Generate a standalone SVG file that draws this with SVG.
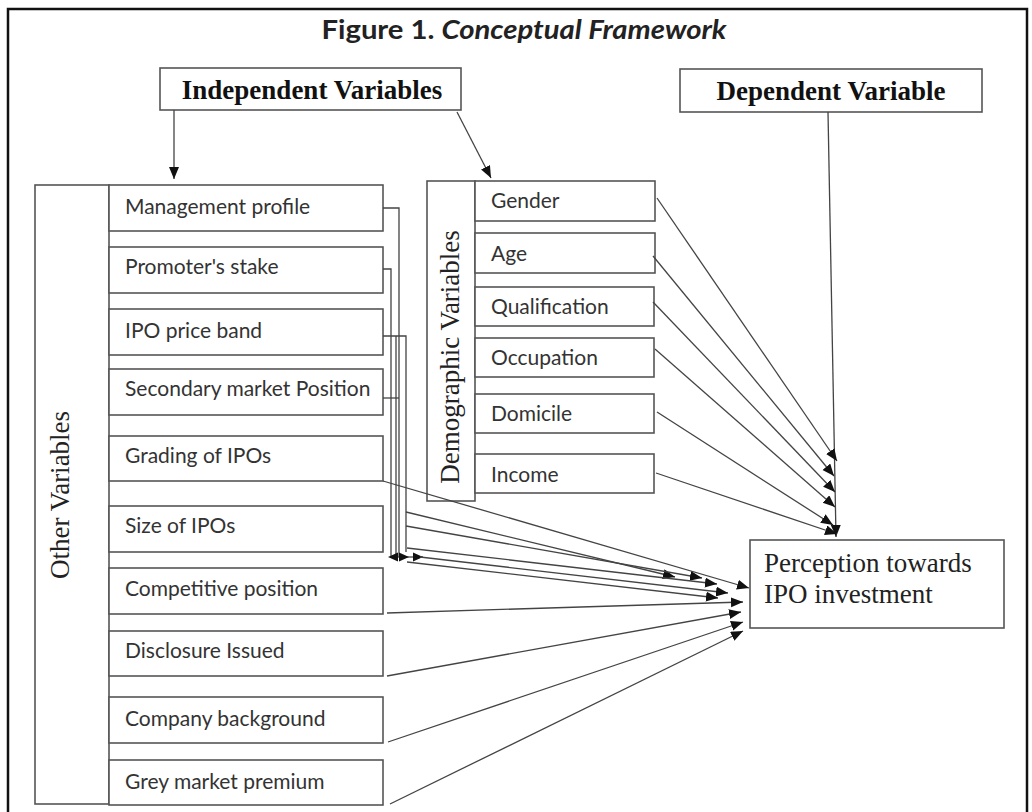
<svg xmlns="http://www.w3.org/2000/svg" width="1032" height="812" viewBox="0 0 1032 812">
<style>
.box{fill:#fff;stroke:#555;stroke-width:1.6}
.lbl{font-family:Lato,"Open Sans","Liberation Sans",sans-serif;font-size:21px;fill:#333}
.hdr{font-family:"Liberation Serif","Times New Roman",serif;font-size:27px;font-weight:bold;fill:#111}
.ser{font-family:"Liberation Serif","Times New Roman",serif;font-size:27px;fill:#222}
.ln{fill:none;stroke:#444;stroke-width:1.3}
.ar{fill:none;stroke:#444;stroke-width:1.3;marker-end:url(#ah)}
.tri{fill:#111}
</style>
<defs>
<marker id="ah" markerUnits="userSpaceOnUse" markerWidth="13" markerHeight="11" refX="12" refY="5" orient="auto">
<path d="M0,0 L12,5 L0,10 z" fill="#111"/>
</marker>
</defs>
<rect x="0" y="0" width="1032" height="812" fill="#fff"/>
<rect x="8" y="9" width="1019" height="830" fill="none" stroke="#111" stroke-width="2.5"/>
<text x="524" y="39" text-anchor="middle" font-family="Lato,'Open Sans','Liberation Sans',sans-serif" font-size="26" font-weight="bold" fill="#222" textLength="405" lengthAdjust="spacingAndGlyphs">Figure 1. <tspan font-style="italic">Conceptual Framework</tspan></text>

<g id="independent">
<rect class="box" x="160" y="68" width="301" height="42"/>
<text class="hdr" x="312" y="99" text-anchor="middle">Independent Variables</text>
</g>
<g id="dependent">
<rect class="box" x="680" y="69" width="302" height="43"/>
<text class="hdr" x="831" y="100" text-anchor="middle">Dependent Variable</text>
</g>

<g id="other-variables">
<rect class="box" x="35" y="185" width="74" height="619"/>
<text class="ser" transform="translate(69,495) rotate(-90)" text-anchor="middle">Other Variables</text>
</g>
<g id="management-profile"><rect class="box" x="109" y="185" width="274" height="46"/><text class="lbl" x="125" y="214">Management profile</text></g>
<g id="promoters-stake"><rect class="box" x="109" y="247" width="274" height="46"/><text class="lbl" x="125" y="274">Promoter's stake</text></g>
<g id="ipo-price-band"><rect class="box" x="109" y="309" width="274" height="46"/><text class="lbl" x="125" y="338">IPO price band</text></g>
<g id="secondary-market"><rect class="box" x="109" y="369" width="274" height="46"/><text class="lbl" x="125" y="396">Secondary market Position</text></g>
<g id="grading"><rect class="box" x="109" y="436" width="274" height="45"/><text class="lbl" x="125" y="463">Grading of IPOs</text></g>
<g id="size"><rect class="box" x="109" y="506" width="274" height="46"/><text class="lbl" x="125" y="533">Size of IPOs</text></g>
<g id="competitive"><rect class="box" x="109" y="568" width="274" height="46"/><text class="lbl" x="125" y="596">Competitive position</text></g>
<g id="disclosure"><rect class="box" x="109" y="631" width="274" height="45"/><text class="lbl" x="125" y="658">Disclosure Issued</text></g>
<g id="company"><rect class="box" x="109" y="697" width="274" height="46"/><text class="lbl" x="125" y="726">Company background</text></g>
<g id="grey-market"><rect class="box" x="109" y="760" width="274" height="45"/><text class="lbl" x="125" y="789">Grey market premium</text></g>

<g id="demographic-variables">
<rect class="box" x="427" y="181" width="48" height="320"/>
<text class="ser" transform="translate(459,357) rotate(-90)" text-anchor="middle">Demographic Variables</text>
</g>
<g id="gender"><rect class="box" x="475" y="181" width="180" height="40"/><text class="lbl" x="491" y="208">Gender</text></g>
<g id="age"><rect class="box" x="475" y="233" width="180" height="40"/><text class="lbl" x="491" y="261">Age</text></g>
<g id="qualification"><rect class="box" x="475" y="287" width="179" height="39"/><text class="lbl" x="491" y="314">Qualification</text></g>
<g id="occupation"><rect class="box" x="475" y="338" width="179" height="39"/><text class="lbl" x="491" y="365">Occupation</text></g>
<g id="domicile"><rect class="box" x="475" y="394" width="179" height="39"/><text class="lbl" x="491" y="421">Domicile</text></g>
<g id="income"><rect class="box" x="475" y="454" width="179" height="39"/><text class="lbl" x="491" y="482">Income</text></g>

<g id="perception">
<rect class="box" x="750" y="540" width="254" height="88"/>
<text class="ser" x="764" y="572">Perception towards</text>
<text class="ser" x="764" y="603">IPO investment</text>
</g>

<g id="connectors">
<line class="ar" x1="174" y1="110" x2="174" y2="179"/>
<line class="ar" x1="457" y1="112" x2="491" y2="178"/>
<line class="ar" x1="828" y1="112" x2="836" y2="537"/>
<line class="ar" x1="657" y1="198" x2="837" y2="461"/>
<line class="ar" x1="653" y1="256" x2="834" y2="476"/>
<line class="ar" x1="653" y1="302" x2="835" y2="492"/>
<line class="ar" x1="655" y1="349" x2="835" y2="507"/>
<line class="ar" x1="657" y1="412" x2="833" y2="525"/>
<line class="ar" x1="656" y1="473" x2="837" y2="534"/>

<path class="ln" d="M383,208 H399 V557"/>
<path class="ln" d="M383,269 H391 V557"/>
<path class="ln" d="M383,336 H406 V552"/>
<path class="ln" d="M396,336 V557"/>
<path class="ln" d="M383,398 H399"/>
<line class="ln" x1="398" y1="557" x2="423" y2="557"/>
<polygon class="tri" points="388,557 398,552.5 398,561.5"/>
<polygon class="tri" points="409,557 399,552.5 399,561.5"/>
<polygon class="tri" points="423,557 413,552.5 413,561.5"/>

<line class="ar" x1="406" y1="512" x2="675" y2="577"/>
<line class="ar" x1="406" y1="526" x2="702" y2="578"/>
<line class="ar" x1="407" y1="548" x2="717" y2="584"/>
<line class="ar" x1="420" y1="557" x2="728" y2="593"/>
<line class="ar" x1="407" y1="562" x2="718" y2="598"/>
<line class="ar" x1="383" y1="481" x2="749" y2="588"/>
<line class="ar" x1="387" y1="613" x2="743" y2="602"/>
<line class="ar" x1="387" y1="676" x2="741" y2="612"/>
<line class="ar" x1="388" y1="742" x2="743" y2="622"/>
<line class="ar" x1="390" y1="804" x2="743" y2="631"/>
</g>
</svg>
